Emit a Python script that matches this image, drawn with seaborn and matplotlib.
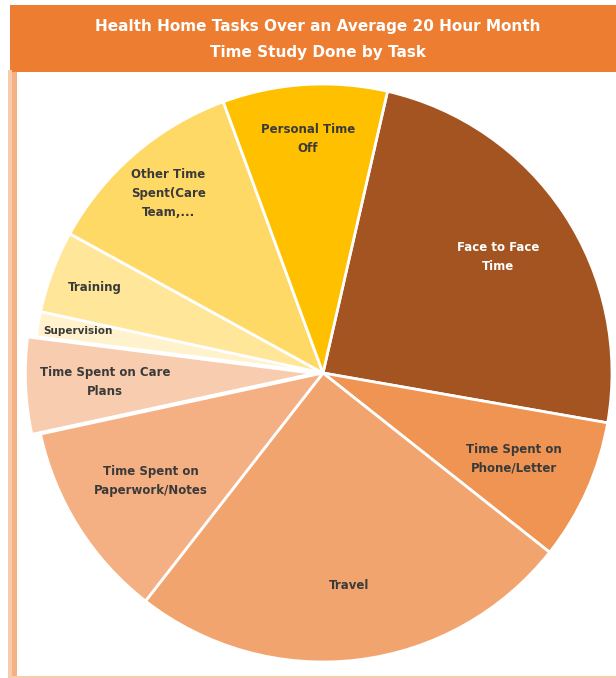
import matplotlib
matplotlib.use("Agg")
import matplotlib.pyplot as plt
import seaborn as sns
import numpy as np
from matplotlib.patches import Rectangle

# ---- data ----
categories = ["Face to Face\nTime", "Time Spent on\nPhone/Letter", "Travel",
              "Time Spent on\nPaperwork/Notes", "Time Spent on Care\nPlans",
              "Supervision", "Training", "Other Time\nSpent(Care\nTeam,...",
              "Personal Time\nOff"]
values = [24.2, 7.9, 24.9, 11.1, 5.4, 1.4, 4.6, 11.4, 9.2]
title_lines = ["Health Home Tasks Over an Average 20 Hour Month",
               "Time Study Done by Task"]

# ---- style ----
colors = ["#A45420", "#EF9452", "#F2A46E", "#F4B083", "#F8CCAE",
          "#FFF2CC", "#FFE699", "#FFD966", "#FFC000"]
text_colors = ["white"] + ["#3A3A3A"] * 8
label_r = [0.727, 0.725, 0.74, 0.703, 0.755, 0.862, 0.843, 0.82, 0.81]
label_size = [8.5, 8.5, 8.5, 8.5, 8.5, 7.5, 8.5, 8.5, 8.5]
explode = [0, 0, 0, 0, 0.03, 0, 0, 0, 0]

sns.set_theme(style="white")
plt.rcParams['font.family'] = ['DejaVu Sans']

W, H = 616, 678
fig = plt.figure(figsize=(W / 100, H / 100), dpi=100)
fig.patch.set_facecolor("white")

# title bar
fig.patches.append(Rectangle((10 / W, 1 - 72 / H), 1 - 10 / W, 67 / H,
                             transform=fig.transFigure, facecolor="#ED7D31",
                             edgecolor="none", zorder=0))
# left border
fig.patches.append(Rectangle((8 / W, 0), 4 / W, 1 - 70 / H,
                             transform=fig.transFigure, facecolor="#F8CBAD",
                             edgecolor="none", zorder=0))
fig.patches.append(Rectangle((12 / W, 0), 5 / W, 1 - 72 / H,
                             transform=fig.transFigure, facecolor="#F4B183",
                             edgecolor="none", zorder=0))
# bottom border
fig.patches.append(Rectangle((8 / W, 0), 1 - 8 / W, 2 / H,
                             transform=fig.transFigure, facecolor="#F8CBAD",
                             edgecolor="none", zorder=0))

fig.text(318 / W, 1 - 27 / H, title_lines[0], color="white", fontsize=11,
         fontweight="bold", ha="center", va="center")
fig.text(318 / W, 1 - 52 / H, title_lines[1], color="white", fontsize=11,
         fontweight="bold", ha="center", va="center")

cx, cy, R = 323, 373, 289
ax = fig.add_axes([(cx - R) / W, (H - cy - R) / H, 2 * R / W, 2 * R / H])
wedges, _ = ax.pie(values, colors=colors, startangle=77.1, counterclock=False,
                   explode=explode,
                   wedgeprops=dict(edgecolor="white", linewidth=2))
for w in wedges:
    w.set_clip_on(False)
ax.set_xlim(-1, 1)
ax.set_ylim(-1, 1)
ax.set_aspect("equal")
ax.axis("off")

for w, lab, r, tc, fs in zip(wedges, categories, label_r, text_colors, label_size):
    mid = np.deg2rad((w.theta1 + w.theta2) / 2)
    ax.text(r * np.cos(mid), r * np.sin(mid), lab, ha="center", va="center",
            fontsize=fs, fontweight="bold", color=tc, linespacing=1.6)

fig.savefig("out.png", dpi=100, facecolor="white")
